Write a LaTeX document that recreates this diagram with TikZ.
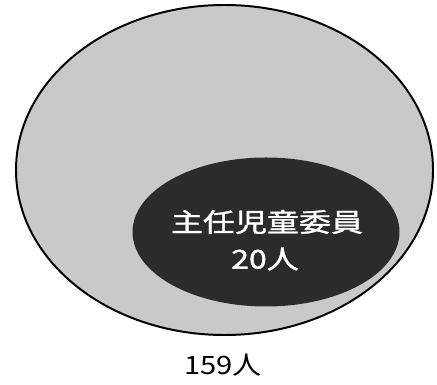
\documentclass[tikz,border=0pt]{standalone}
\usepackage{fontspec}
\newfontfamily\jpfont{Noto Sans CJK JP}
\newfontfamily\jpboldfont[FakeBold=1.2]{Noto Sans CJK JP}
\usepackage{xcolor}
\usetikzlibrary{shapes.geometric}
\definecolor{outergray}{HTML}{C9C9C9}
\definecolor{innerdark}{HTML}{2B2B2B}
\tikzset{outer/.style={ellipse,draw=black,line width=1.4pt,fill=outergray,
   minimum width=10.425cm,minimum height=8.25cm,inner sep=0pt},
 inner/.style={ellipse,draw=none,fill=innerdark,
   minimum width=6.675cm,minimum height=3.725cm,inner sep=0pt},
 jptext/.style={font=\jpfont\fontsize{18}{20}\selectfont,xscale=1.15,inner sep=0pt},
 jpwhite/.style={font=\jpboldfont\fontsize{18.5}{20}\selectfont,xscale=1.23,inner sep=0pt,text=white},
 }
\begin{document}
\begin{tikzpicture}
        \useasboundingbox (0,0) rectangle (10.925,9.625);
        \node[outer] (all) at (5.6125,5.375) {};
        \node[inner] (chief) at (6.65,3.825) {};
        \node[jpwhite] (chieftitle) at (6.675,4.075) {主任児童委員};
        \node[jpwhite] (chiefnum) at (6.625,3.15) {20人};
        \node[jptext, text=black] (total) at (5.575,0.5) {159人};
    \end{tikzpicture}
\end{document}
